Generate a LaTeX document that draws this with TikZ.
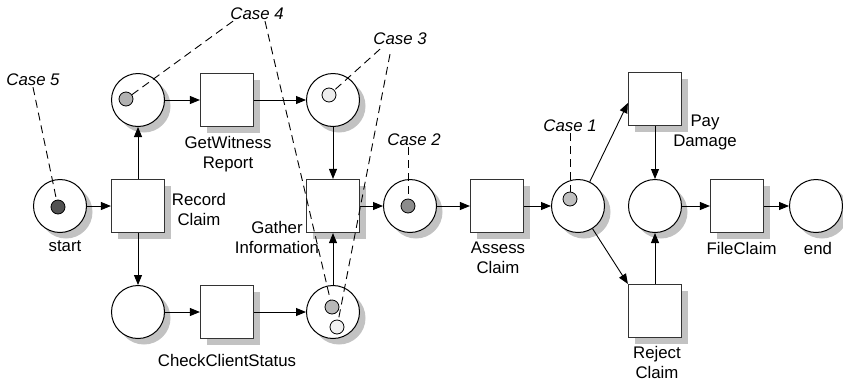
\documentclass[tikz,border=0pt]{standalone}
\usepackage{fontspec}
\setmainfont{Liberation Sans}
\usetikzlibrary{arrows.meta,shadows}
\begin{document}
\begin{tikzpicture}[x=1pt,y=-1pt,
 every node/.style={font=\fontsize{16.8}{20}\selectfont},
 shd/.style={drop shadow={shadow xshift=6pt,shadow yshift=-6pt,fill=black!24,opacity=1}},
 place/.style={circle,draw=black,line width=1pt,fill=white,minimum size=53pt,inner sep=0pt,shd},
 trans/.style={rectangle,draw=black!80,line width=1.2pt,fill=white,minimum size=53pt,inner sep=0pt,shd},
 tok/.style={circle,draw=black,line width=0.8pt,minimum size=14pt,inner sep=0pt},
 lbl/.style={align=center,inner sep=0pt},
 case/.style={font=\fontsize{16.8}{20}\selectfont\itshape,inner sep=1pt},
 arc/.style={-{Triangle[length=10pt,width=8pt]},line width=0.9pt},
 note/.style={dash pattern=on 8pt off 5pt,line width=0.9pt}
]
\useasboundingbox (0,0) rectangle (843,381);

% places
\node[place] (start) at (60,206) {};
\node[place] (p1) at (138,100) {};
\node[place] (p2) at (138,312) {};
\node[place] (p3) at (333,100) {};
\node[place] (p4) at (333,312) {};
\node[place] (p5) at (410,206) {};
\node[place] (p6) at (578,206) {};
\node[place] (p7) at (655,206) {};
\node[place] (pend) at (816,206) {};

% transitions
\node[trans] (rec) at (138,206) {};
\node[trans] (wit) at (227,100) {};
\node[trans] (chk) at (227,312) {};
\node[trans] (gat) at (333,206) {};
\node[trans] (ass) at (497,206) {};
\node[trans] (pay) at (655,99) {};
\node[trans] (rej) at (655,311) {};
\node[trans] (fil) at (737,206) {};

% tokens
\node[tok,fill=black!68] (t5) at (58,207) {};
\node[tok,fill=black!30] (t4a) at (126,99) {};
\node[tok,fill=black!7] (t3a) at (329,95) {};
\node[tok,fill=black!28] (t4b) at (332,307) {};
\node[tok,fill=black!6] (t3b) at (337,327) {};
\node[tok,fill=black!45] (t2) at (408,206) {};
\node[tok,fill=black!25] (t1) at (570,199) {};

% labels
\node[lbl] at (65,246) {start};
\node[lbl] at (199,209) {Record\\Claim};
\node[lbl] at (228,154.5) {GetWitness\\Report};
\node[lbl] at (277,237) {Gather\\Information};
\node[lbl] at (227,360) {CheckClientStatus};
\node[lbl] at (498,257.5) {Assess\\Claim};
\node[lbl] at (705,132) {Pay\\Damage};
\node[lbl] at (657,362.5) {Reject\\Claim};
\node[lbl] at (741.5,248) {FileClaim};
\node[lbl] at (818,248) {end};

% case labels
\node[case] (c4) at (257,14) {Case 4};
\node[case] (c3) at (400,39) {Case 3};
\node[case] (c5) at (33,80) {Case 5};
\node[case] (c2) at (414,140) {Case 2};
\node[case] (c1) at (570,126) {Case 1};

% arcs
\draw[arc] (start) -- (rec);
\draw[arc] (rec) -- (p1);
\draw[arc] (rec) -- (p2);
\draw[arc] (p1) -- (wit);
\draw[arc] (wit) -- (p3);
\draw[arc] (p3) -- (gat);
\draw[arc] (p2) -- (chk);
\draw[arc] (chk) -- (p4);
\draw[arc] (p4) -- (gat);
\draw[arc] (gat) -- (p5);
\draw[arc] (p5) -- (ass);
\draw[arc] (ass) -- (p6);
\draw[arc] (p6) -- ([yshift=-4pt]pay.west);
\draw[arc] (p6) -- (rej.north west);
\draw[arc] (pay) -- (p7);
\draw[arc] (rej) -- (p7);
\draw[arc] (p7) -- (fil);
\draw[arc] (fil) -- (pend);

% dashed case pointers
\draw[note] (c5.south) -- (t5);
\draw[note] ([xshift=-24pt]c4.south) -- (t4a);
\draw[note] ([xshift=8pt]c4.south) -- (t4b);
\draw[note] ([xshift=-20pt,yshift=-3pt]c3.south) -- (t3a);
\draw[note] ([xshift=-10pt,yshift=-8pt]c3.south) -- (t3b);
\draw[note] ([xshift=-6pt]c2.south) -- (t2);
\draw[note] (c1.south) -- (t1);
\end{tikzpicture}
\end{document}
